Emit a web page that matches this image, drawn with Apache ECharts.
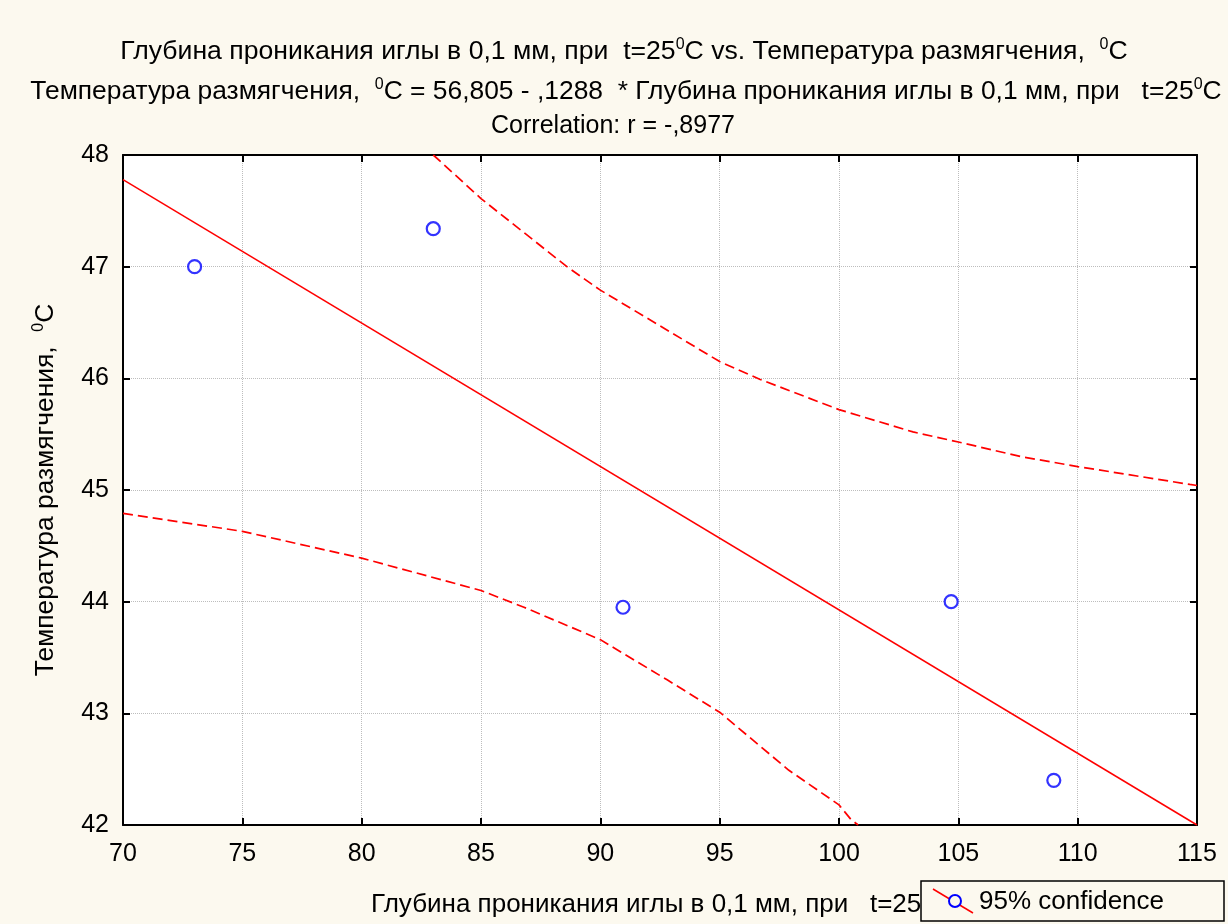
<!DOCTYPE html>
<html><head><meta charset="utf-8">
<script src="https://cdn.jsdelivr.net/npm/echarts@6/dist/echarts.min.js"></script>
<style>html,body{margin:0;padding:0;background:#fcf9ef}#c{width:1228px;height:924px}</style>
</head><body><div id="c"></div>
<script>
// ---- data ----
const points = [[73.0, 47.0], [83.0, 47.34], [90.95, 43.95], [104.7, 44.0], [109.0, 42.4]];
const fitLine = [[70, 47.78], [115, 42.0]];
const upperBand = [[83.0, 48.0], [85.0, 47.61], [88.6, 47.0], [90.0, 46.79], [95.0, 46.15], [96.7, 45.99], [100.0, 45.72], [103.1, 45.52], [105.0, 45.43], [107.6, 45.30], [110.0, 45.21], [114.7, 45.05], [115.0, 45.04]];
const lowerBand = [[70.0, 44.79], [75.0, 44.63], [80.0, 44.39], [85.0, 44.10], [86.8, 43.95], [90.0, 43.66], [92.8, 43.30], [95.0, 43.01], [97.9, 42.49], [100.0, 42.18], [100.5, 42.05], [100.8, 42.0]];
const xRange = {min: 70, max: 115, interval: 5};
const yRange = {min: 42, max: 48, interval: 1};
const titleLines = [
  '{n|Глубина проникания иглы в 0,1 мм, при  t=25}{s|0}{n|C vs. Температура размягчения,  }{s|0}{n|C}',
  '{n|Температура размягчения,  }{s|0}{n|C = 56,805 - ,1288  * Глубина проникания иглы в 0,1 мм, при   t=25}{s|0}{n|C}',
  '{n|Correlation: r = -,8977}'
];
const xName = '{n|Глубина проникания иглы в 0,1 мм, при   t=25}{s|0}{n|C}';
const yName = '{n|Температура размягчения,  }{s|0}{n|C}';
const legendLabel = '95% confidence';

const FONT = '"Liberation Sans", Arial, sans-serif';
const RED = '#ff0000', BLUE = '#0000ff';
function rich(size, lh) {
  const ss = Math.round(size * 0.62);
  return {
    n: {fontSize: size, fontFamily: FONT, fontWeight: 'normal', color: '#000', lineHeight: lh},
    s: {fontSize: ss, fontFamily: FONT, fontWeight: 'normal', color: '#000', lineHeight: ss, verticalAlign: 'top'}
  };
}
const titleTops = [37, 77, 111];
const titleSizes = [26.6, 26.4, 25];
const titleCenters = [624, 626, 613];

const chart = echarts.init(document.getElementById('c'), null, {renderer: 'canvas'});
const axisCommon = {
  type: 'value',
  axisLine: {show: true, lineStyle: {color: '#000', width: 2}},
  axisTick: {show: true, inside: true, length: 7, lineStyle: {color: '#000', width: 2}},
  splitLine: {show: false}
};
chart.setOption({
  backgroundColor: '#fcf9ef',
  animation: false,
  title: titleLines.map((t, i) => ({
    text: t, left: titleCenters[i], textAlign: 'center', top: titleTops[i], padding: 0,
    textStyle: {fontWeight: 'normal', rich: rich(titleSizes[i], 30)}
  })),
  grid: {left: 123, right: 31, top: 155, bottom: 99, show: true, backgroundColor: '#ffffff', borderWidth: 0,
    outerBoundsMode: 'none', containLabel: false},
  xAxis: [
    Object.assign({}, axisCommon, {
      min: xRange.min, max: xRange.max, interval: xRange.interval, position: 'bottom',
      axisLabel: {fontSize: 25, fontFamily: FONT, color: '#000', margin: 17},
      splitLine: {show: true, lineStyle: {type: 'dotted', color: '#bdbdbd', width: 1}},
      name: xName, nameLocation: 'middle', nameGap: 65,
      nameTextStyle: {rich: rich(26, 30)}
    }),
    Object.assign({}, axisCommon, {
      min: xRange.min, max: xRange.max, interval: xRange.interval, position: 'top',
      axisLabel: {show: false}
    })
  ],
  yAxis: [
    Object.assign({}, axisCommon, {
      min: yRange.min, max: yRange.max, interval: yRange.interval, position: 'left',
      axisLabel: {fontSize: 25, fontFamily: FONT, color: '#000', margin: 14},
      splitLine: {show: true, lineStyle: {type: 'dotted', color: '#bdbdbd', width: 1}},
      name: yName, nameLocation: 'middle', nameGap: 62, nameRotate: 90,
      nameTextStyle: {rich: rich(26.4, 30)}
    }),
    Object.assign({}, axisCommon, {
      min: yRange.min, max: yRange.max, interval: yRange.interval, position: 'right',
      axisLabel: {show: false}
    })
  ],
  series: [
    {type: 'line', data: upperBand, symbol: 'none', z: 3, silent: true,
      lineStyle: {color: RED, width: 1.7, type: [10, 5]}},
    {type: 'line', data: lowerBand, symbol: 'none', z: 3, silent: true,
      lineStyle: {color: RED, width: 1.7, type: [10, 5]}},
    {type: 'line', data: fitLine, symbol: 'none', z: 3, silent: true,
      lineStyle: {color: RED, width: 1.5}},
    {type: 'scatter', name: legendLabel, data: points, symbol: 'circle', symbolSize: 13, z: 4,
      itemStyle: {color: '#ffffff', borderColor: BLUE, borderWidth: 2.2}}
  ],
  graphic: [
    {type: 'rect', shape: {x: 921, y: 881, width: 303, height: 40},
      style: {fill: '#fcf9ef', stroke: '#000', lineWidth: 1.5}, z: 100},
    {type: 'line', shape: {x1: 933, y1: 889, x2: 973, y2: 913},
      style: {stroke: RED, lineWidth: 1.5}, z: 101},
    {type: 'circle', shape: {cx: 955, cy: 901, r: 6},
      style: {fill: '#fcf9ef', stroke: BLUE, lineWidth: 2}, z: 102},
    {type: 'text', x: 979, y: 902, z: 102,
      style: {text: legendLabel, font: '26px ' + FONT, fill: '#000', verticalAlign: 'middle', align: 'left'}}
  ]
});
</script></body></html>
